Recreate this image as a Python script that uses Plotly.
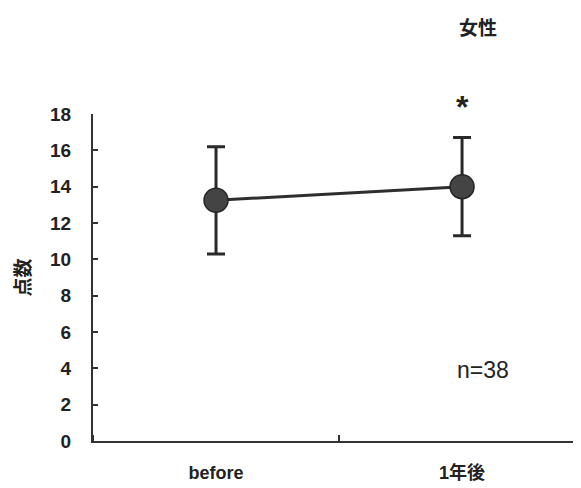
import plotly.graph_objects as go

categories = ["before", "1年後"]
means = [13.25, 14.0]
sds = [2.95, 2.7]
yticks = [0, 2, 4, 6, 8, 10, 12, 14, 16, 18]
title_text = "女性"
ytitle = "点数"
n_label = "n=38"
sig_mark = "*"

xpos = list(range(len(categories)))
FONT = "Liberation Sans, Arial, Noto Sans CJK JP, sans-serif"
INK = "#222222"

fig = go.Figure()
fig.add_trace(go.Scatter(
    x=xpos, y=means, mode="lines+markers",
    line=dict(color="#2e2e2e", width=3),
    marker=dict(size=24, color="#444444", line=dict(color="#262626", width=1.5)),
    error_y=dict(type="data", array=sds, visible=True, color="#2a2a2a", thickness=3, width=9),
    showlegend=False, hoverinfo="skip",
))

fig.add_annotation(x=xpos[1], y=means[1] + sds[1], text="<b>" + sig_mark + "</b>", showarrow=False,
                   yshift=31, font=dict(family=FONT, size=32, color=INK))
fig.add_annotation(x=0.842, y=0.171, xref="paper", yref="paper", text=n_label, showarrow=False,
                   font=dict(family=FONT, size=23, color=INK))

fig.update_layout(
    width=581, height=488,
    margin=dict(l=85, r=0, t=106, b=55),
    paper_bgcolor="white", plot_bgcolor="white",
    font=dict(family=FONT, color=INK),
    title=dict(text=f"<b>{title_text}</b>", x=0.809, xanchor="center", y=0.959, yanchor="middle",
               font=dict(family=FONT, size=19, color=INK)),
    xaxis=dict(
        range=[-0.5, 1.516], tickmode="array", tickvals=xpos,
        ticktext=[f"<b>{c}</b>" for c in categories], ticks="",
        tickfont=dict(family=FONT, size=18, color=INK),
        showline=True, linecolor="#333333", linewidth=2, showgrid=False, zeroline=False,
        ticklabelstandoff=14,
        minor=dict(tick0=0.5, dtick=1, ticks="inside", ticklen=6, tickwidth=1.5, tickcolor="#333333", showgrid=False),
    ),
    yaxis=dict(
        range=[0, 18], tickmode="array", tickvals=yticks,
        ticktext=[f"<b>{v}</b>" for v in yticks],
        ticks="inside", ticklen=5, tickwidth=1.5, tickcolor="#333333",
        tickfont=dict(family=FONT, size=19, color=INK),
        showline=True, linecolor="#333333", linewidth=2, showgrid=False, zeroline=False,
        ticklabelstandoff=16,
        title=dict(text=f"<b>{ytitle}</b>", font=dict(family=FONT, size=19, color=INK), standoff=14),
    ),
)

fig.write_html("out.html")
